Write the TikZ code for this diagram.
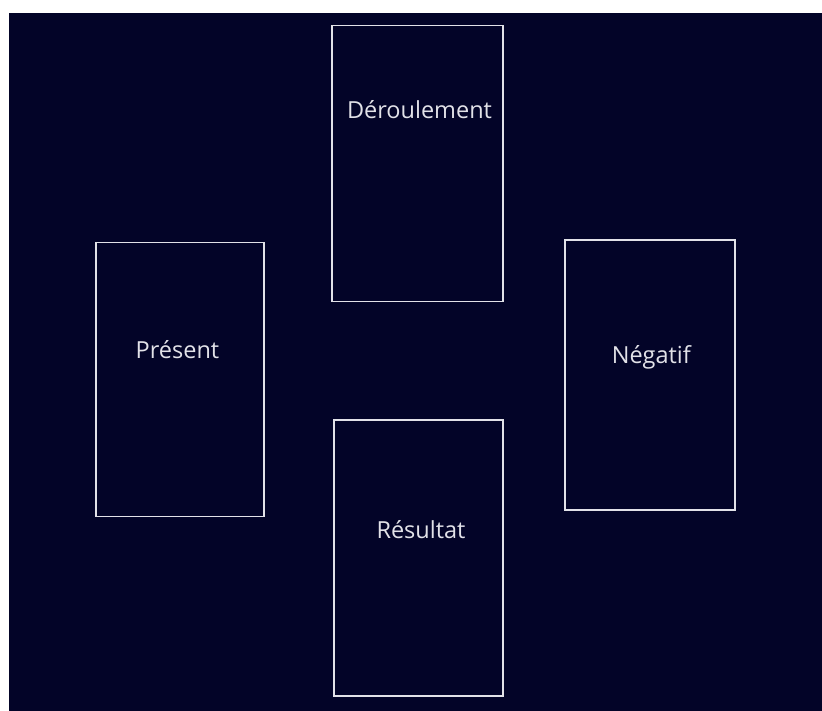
\documentclass[tikz,border=0pt]{standalone}
\usepackage{fontspec}
\setmainfont{Open Sans}
\definecolor{nightbg}{RGB}{3,4,40}
\definecolor{cardline}{RGB}{226,226,232}
\tikzset{
  card/.style={draw=cardline, line width=1.3pt, inner sep=0pt},
  cardtext/.style={text=cardline, anchor=base, inner sep=0pt, font=\fontsize{23.5}{28}\selectfont}
}
\begin{document}
\begin{tikzpicture}[x=1pt, y=-1pt]
  % Fond
  \useasboundingbox (0,0) rectangle (822,711);
  \fill[nightbg] (9,13) rectangle (822,711);

  % Cartes
  \node[card, minimum width=171pt, minimum height=276pt] (deroulement) at (417.5,163.3) {};
  \node[card, minimum width=168pt, minimum height=274pt] (present) at (180,379.2) {};
  \node[card, minimum width=170pt, minimum height=270pt] (negatif) at (650,375) {};
  \node[card, minimum width=169pt, minimum height=276pt] (resultat) at (418.5,558) {};

  % Titres
  \node[cardtext] (tderoulement) at (419.5,119) {Déroulement};
  \node[cardtext] (tpresent) at (177.5,359) {Présent};
  \node[cardtext] (tnegatif) at (651.3,363) {Négatif};
  \node[cardtext] (tresultat) at (421,538) {Résultat};
\end{tikzpicture}
\end{document}
